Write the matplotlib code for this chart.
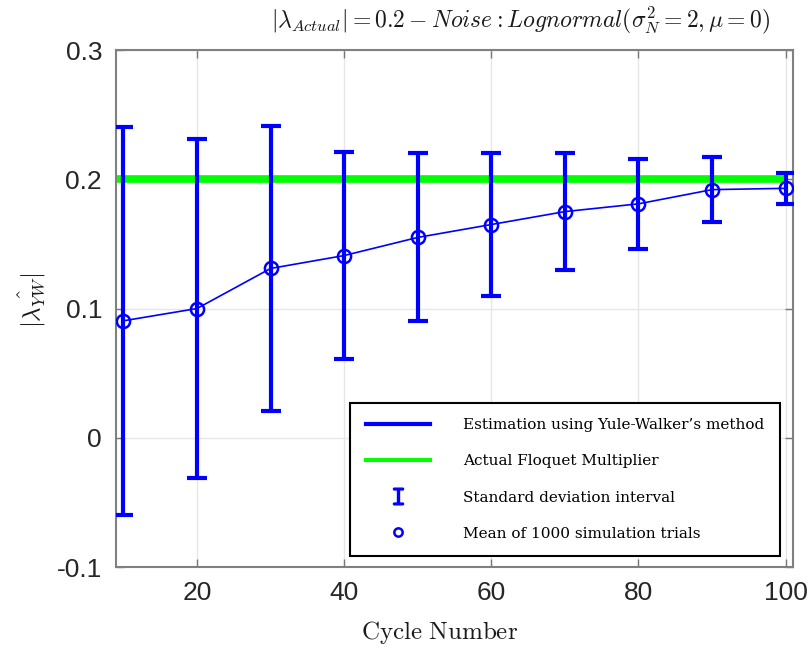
import numpy as np
import matplotlib.pyplot as plt
from matplotlib.lines import Line2D

plt.rcParams['mathtext.fontset'] = 'cm'

# yule-walker estimates vs cycle number
cycles = [10, 20, 30, 40, 50, 60, 70, 80, 90, 100]
mean_est = [0.0905, 0.100, 0.131, 0.141, 0.155, 0.165, 0.175, 0.181, 0.192, 0.193]
std_est = [0.150, 0.131, 0.110, 0.080, 0.065, 0.055, 0.045, 0.035, 0.025, 0.012]
lam_actual = 0.2

xticks = [20, 40, 60, 80, 100]
yticks = [-0.1, 0, 0.1, 0.2, 0.3]
ytick_labels = ['-0.1', '0', '0.1', '0.2', '0.3']

fig = plt.figure(figsize=(8.09, 6.49), dpi=100)
ax = fig.add_axes([0.1434, 0.1263, 0.8368, 0.7966])

xlo, xhi = 9, 101
ax.set_xlim(xlo, xhi)
ax.set_ylim(-0.1, 0.3)

# true multiplier
ax.plot([xlo, cycles[-1]], [lam_actual, lam_actual], color='#00ff00', lw=5.5, zorder=2,
        solid_capstyle='butt')

# mean line + markers, std interval on top
ax.plot(cycles, mean_est, color='blue', lw=1.2, zorder=3)
ax.plot(cycles, mean_est, 'o', mfc='none', mec='blue', ms=9.5, mew=1.8, zorder=4)
ax.errorbar(cycles, mean_est, yerr=std_est, fmt='none', ecolor='blue',
            elinewidth=3, capsize=7, capthick=3, zorder=5)

ax.set_xticks(xticks)
ax.set_yticks(yticks)
ax.set_yticklabels(ytick_labels)
ax.tick_params(direction='in', length=6, width=1, color='#777777',
               labelcolor='#262626', labelsize=19, pad=10, top=True, right=True)
for lbl in ax.get_xticklabels() + ax.get_yticklabels():
    lbl.set_family('Liberation Sans')
ax.grid(True, color='#e6e6e6', lw=1)
ax.set_axisbelow(True)
for sp in ax.spines.values():
    sp.set_color('#808080')
    sp.set_linewidth(1.5)

fig.text(521 / 809, 1 - 20 / 649,
         r'$|\lambda_{Actual}| = 0.2 - Noise: Lognormal(\sigma_N^2 = 2, \mu = 0)$',
         ha='center', va='center', fontsize=17, color='#1a1a1a')
fig.text(440 / 809, 1 - 633 / 649, r'$\mathrm{Cycle\ Number}$',
         ha='center', va='center', fontsize=18, color='#1a1a1a')
fig.text(32 / 809, 1 - 300 / 649, r'$|\hat{\lambda_{YW}}|$', rotation=90,
         ha='center', va='center', fontsize=18, color='#1a1a1a')

handles = [
    Line2D([], [], color='blue', lw=3),
    Line2D([], [], color='#00ff00', lw=3),
    Line2D([], [], color='blue', lw=0, marker='$\\mathtt{I}$', ms=12),
    Line2D([], [], color='blue', lw=0, marker='o', mfc='none', mew=1.8, ms=6),
]
labels = ["Estimation using Yule-Walker\u2019s method",
          'Actual Floquet Multiplier',
          'Standard deviation interval',
          'Mean of 1000 simulation trials']
leg = ax.legend(handles, labels, loc='lower right',
                bbox_to_anchor=(780 / 809, 1 - 556 / 649),
                bbox_transform=fig.transFigure,
                prop={'family': 'DejaVu Serif', 'size': 11},
                frameon=True, fancybox=False, framealpha=1, edgecolor='black',
                borderpad=1.0, labelspacing=1.45, handlelength=4.2,
                handletextpad=2.2, borderaxespad=0)
leg.get_frame().set_linewidth(1.5)

fig.savefig('out.png', dpi=100)
